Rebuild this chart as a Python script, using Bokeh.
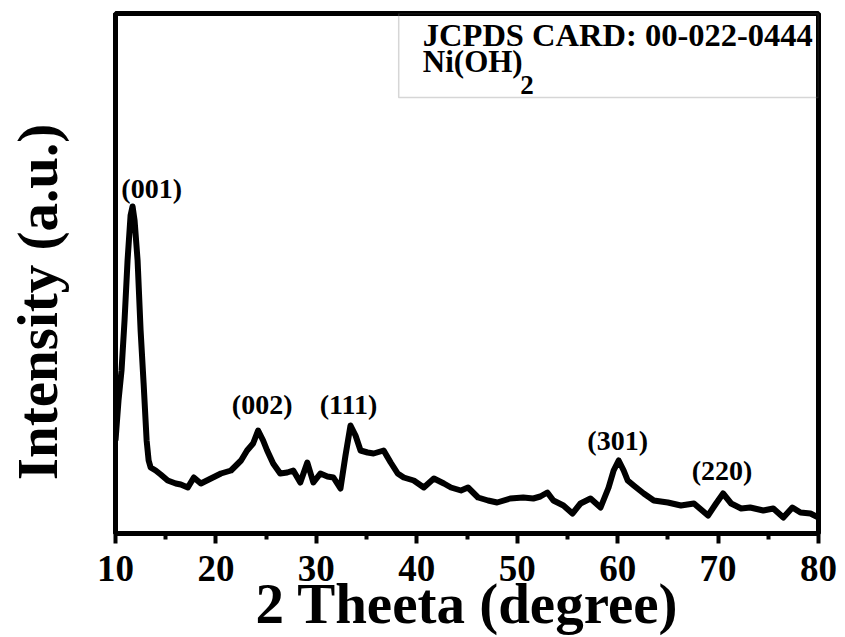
from bokeh.plotting import figure
from bokeh.models import Range1d, FixedTicker, BoxAnnotation, Label, ColumnDataSource
from bokeh.core.properties import value
from bokeh.embed import file_html
from bokeh.resources import INLINE

# ---- data ----
two_theta = [10.0, 10.3, 10.6, 10.9, 11.2, 11.5, 11.7, 11.9, 12.2, 12.5, 12.8, 13.1, 13.3, 13.5,
             14.0, 14.5, 15.2, 16.0, 16.5, 17.2, 17.8, 18.5, 19.5, 20.5, 21.5, 22.5, 23.1, 23.7,
             24.2, 24.7, 25.1, 25.7, 26.4, 27.1, 27.7, 28.4, 29.1, 29.7, 30.4, 31.1, 31.7, 32.4,
             32.9, 33.4, 33.9, 34.4, 35.1, 35.7, 36.7,
             37.4, 38.1, 38.7, 39.7, 40.7, 41.7, 42.7, 43.4, 44.4, 45.1, 46.1, 47.1, 48.0, 49.3,
             50.6, 51.6, 52.3, 53.0, 53.6, 54.6, 55.5, 56.3, 57.3, 58.3,
             59.1, 59.6, 60.1, 60.6, 61.0, 61.6, 62.6, 63.6, 65.0, 66.3, 67.6, 69.0, 69.8, 70.5,
             71.3, 72.3, 73.2, 74.5, 75.5, 76.5, 77.4, 78.2, 79.2, 80.0]
intensity = [93, 133, 163, 213, 273, 318, 327, 313, 273, 203, 150, 93, 73, 66,
             63, 59, 53, 50, 49, 46, 56, 50, 55, 60, 63, 73, 83, 90,
             103, 93, 83, 70, 60, 61, 63, 51, 71, 51, 60, 57, 56, 45,
             78, 108, 98, 83, 81, 80, 83,
             71, 60, 56, 53, 46, 55, 50, 46, 43, 46, 36, 33, 31, 35,
             36, 35, 37, 41, 33, 28, 20, 30, 35, 26,
             46, 63, 73, 63, 53, 48, 40, 33, 31, 28, 30, 18, 30, 40,
             30, 25, 26, 23, 25, 16, 26, 21, 20, 16]

hkl_labels = ["(001)", "(002)", "(111)", "(301)", "(220)"]
hkl_x = [13.6, 24.6, 33.2, 60.0, 70.4]
hkl_y = [345, 129, 129, 93, 63]

x_ticks = [10, 20, 30, 40, 50, 60, 70, 80]
x_minor = [15, 25, 35, 45, 55, 65, 75]
x_title = "2 Theeta (degree)"
y_title = "Intensity (a.u.)"
card_text = "JCPDS CARD: 00-022-0444"
phase_text = "Ni(OH)"
phase_sub = "2"

FONT = "Liberation Serif"

p = figure(width=845, height=637, output_backend="svg", toolbar_location=None,
           x_range=Range1d(10, 80), y_range=Range1d(0, 520),
           min_border_left=115, min_border_right=27, min_border_top=13, min_border_bottom=104)
p.background_fill_color = "white"
p.border_fill_color = "white"
p.grid.visible = False
p.outline_line_color = "black"
p.outline_line_width = 5

p.line(two_theta, intensity, line_color="black", line_width=6, line_join="round")

src = ColumnDataSource(dict(x=hkl_x, y=hkl_y, t=hkl_labels))
p.text(x="x", y="y", text="t", source=src, text_font=value(FONT), text_font_style="bold",
       text_font_size="28px", text_align="center", text_baseline="middle", text_color="black")

# x axis
xa = p.xaxis[0]
xa.ticker = FixedTicker(ticks=x_ticks, minor_ticks=x_minor)
xa.axis_line_width = 5
xa.major_tick_line_width = 4
xa.minor_tick_line_width = 4
xa.major_tick_out = 10
xa.major_tick_in = 0
xa.minor_tick_out = 6
xa.minor_tick_in = 0
xa.major_label_text_font = FONT
xa.major_label_text_font_style = "bold"
xa.major_label_text_font_size = "37px"
xa.major_label_text_color = "black"
xa.major_label_standoff = 12
xa.axis_label = x_title
xa.axis_label_text_font = FONT
xa.axis_label_text_font_style = "bold"
xa.axis_label_text_font_size = "57px"
xa.axis_label_text_color = "black"
xa.axis_label_standoff = -12

# y axis: line only, no ticks; title nudged down (trailing no-break spaces)
ya = p.yaxis[0]
ya.ticker = FixedTicker(ticks=[])
ya.axis_line_width = 5
ya.major_tick_out = 0
ya.minor_tick_out = 0
ya.major_label_text_font_size = "0px"
ya.axis_label = y_title + "\u00a0" * 4
ya.axis_label_text_font = FONT
ya.axis_label_text_font_style = "bold"
ya.axis_label_text_font_size = "57px"
ya.axis_label_text_color = "black"
ya.axis_label_standoff = 47

# reference card box
box = BoxAnnotation(left=38.2, right=80, bottom=436, top=520, fill_alpha=0,
                    line_color="#777777", line_width=1.5, level="overlay")
p.add_layout(box)
p.add_layout(Label(x=40.6, y=499, text=card_text, text_font=FONT, text_font_style="bold",
                   text_font_size="32.5px", text_color="black", text_baseline="middle"))
p.add_layout(Label(x=40.6, y=472, text=phase_text, text_font=FONT, text_font_style="bold",
                   text_font_size="31px", text_color="black", text_baseline="middle"))
p.add_layout(Label(x=50.3, y=449, text=phase_sub, text_font=FONT, text_font_style="bold",
                   text_font_size="27px", text_color="black", text_baseline="middle"))

open("out.html", "w").write(file_html(p, INLINE))
